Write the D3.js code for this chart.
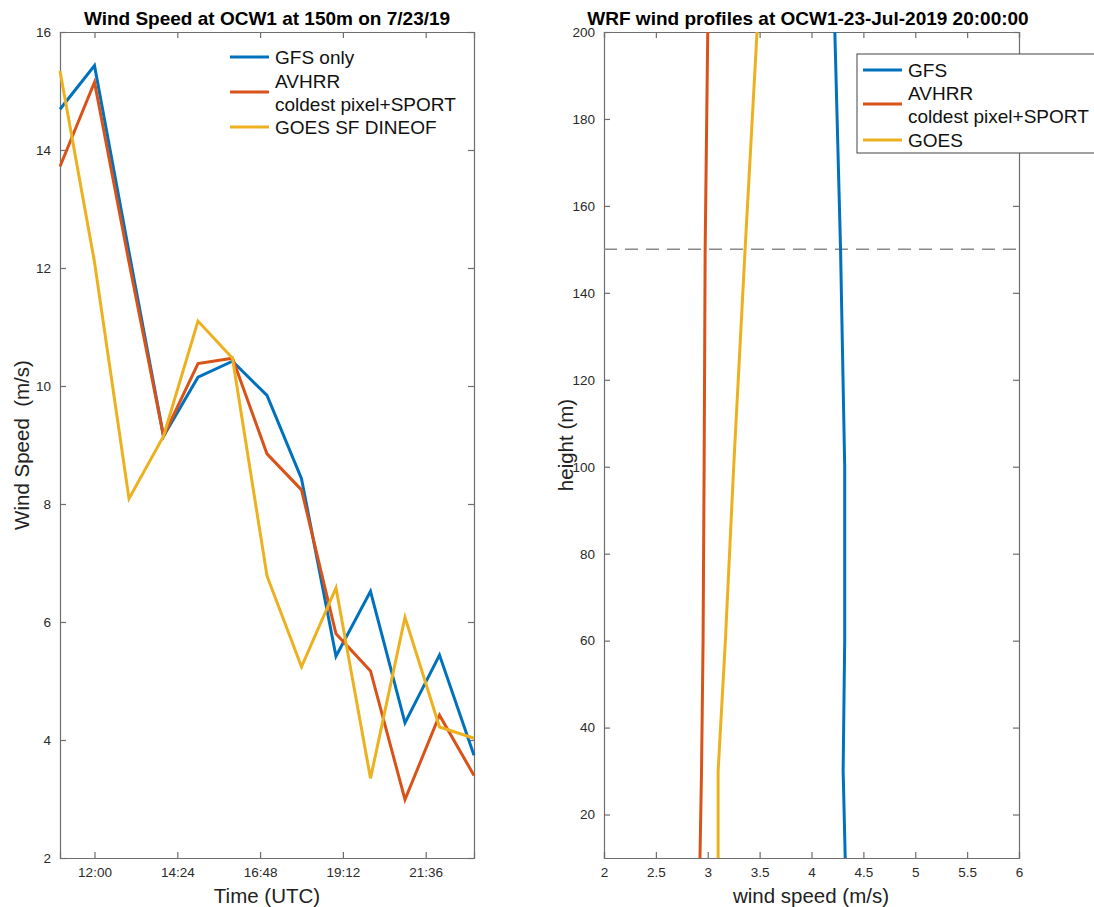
<!DOCTYPE html>
<html>
<head>
<meta charset="utf-8">
<script src="https://cdn.jsdelivr.net/npm/d3@7"></script>
<style>
  body { margin: 0; background: #fff; }
  svg text { font-family: "Liberation Sans", Arial, Helvetica, sans-serif; }
</style>
</head>
<body>
<svg id="chart" width="1094" height="907"></svg>
<script>
// left panel: hourly wind speed at 150 m
const times = ["11:00", "12:00", "13:00", "14:00", "15:00", "16:00", "17:00",
               "18:00", "19:00", "20:00", "21:00", "22:00", "23:00"];
const gfsSeries = [14.69, 15.43, 12.27, 9.15, 10.15, 10.42, 9.84, 8.43, 5.42, 6.52, 4.29, 5.44, 3.74];
const avhrrSeries = [13.72, 15.15, 12.1, 9.15, 10.38, 10.47, 8.85, 8.24, 5.80, 5.17, 2.99, 4.42, 3.40];
const goesSeries = [15.34, 12.1, 8.09, 9.15, 11.10, 10.47, 6.78, 5.24, 6.58, 3.35, 6.08, 4.22, 4.03];
const timeTicks = ["12:00", "14:24", "16:48", "19:12", "21:36"];
const speedTicks = [2, 4, 6, 8, 10, 12, 14, 16];

// right panel: vertical profile at 20:00
const heights = [10, 30, 60, 100, 150, 200];
const gfsProfile = [4.325, 4.305, 4.32, 4.32, 4.28, 4.225];
const avhrrProfile = [2.925, 2.94, 2.955, 2.965, 2.975, 3.0];
const goesProfile = [3.10, 3.10, 3.17, 3.25, 3.36, 3.475];
const profileSpeedTicks = [2, 2.5, 3, 3.5, 4, 4.5, 5, 5.5, 6];
const heightTicks = [20, 40, 60, 80, 100, 120, 140, 160, 180, 200];
const hubHeight = 150;

const colors = ["#0072BD", "#D95319", "#EDB120"];
const axisColor = "#6e6e6e";
const labelColor = "#2a2a2a";

const svg = d3.select("#chart");
const plotTop = 32, plotBottom = 858;

const parseTime = d3.utcParse("%H:%M");

function boxAxes(g, x, y, xTicks, yTicks, xFormat, yFormat) {
    const [x0, x1] = x.range();
    const [y0, y1] = y.range();
    g.append("g").attr("transform", `translate(0,${y0})`)
        .call(d3.axisBottom(x).tickValues(xTicks).tickSize(-6).tickPadding(9).tickFormat(xFormat));
    g.append("g").attr("transform", `translate(0,${y1})`)
        .call(d3.axisTop(x).tickValues(xTicks).tickSize(-6).tickFormat(""));
    g.append("g").attr("transform", `translate(${x0},0)`)
        .call(d3.axisLeft(y).tickValues(yTicks).tickSize(-6).tickPadding(9).tickFormat(yFormat));
    g.append("g").attr("transform", `translate(${x1},0)`)
        .call(d3.axisRight(y).tickValues(yTicks).tickSize(-6).tickFormat(""));
    g.selectAll(".domain").attr("stroke", axisColor).attr("stroke-width", 1.2);
    g.selectAll(".tick line").attr("stroke", axisColor).attr("stroke-width", 1.2);
    g.selectAll(".tick text").attr("fill", labelColor).style("font-size", "13.5px");
}

function legend(g, x, y, entries) {
    entries.forEach(e => {
        g.append("line")
            .attr("x1", x).attr("x2", x + 39)
            .attr("y1", y + e.lineY).attr("y2", y + e.lineY)
            .attr("stroke", e.color).attr("stroke-width", 2.8);
        e.lines.forEach((t, i) => {
            g.append("text")
                .attr("x", x + 45).attr("y", y + e.textY + i * 23)
                .attr("dy", "0.35em")
                .style("font-size", "19px").attr("fill", "#111")
                .text(t);
        });
    });
}

// ---------- left panel ----------
const left = svg.append("g");
const xTime = d3.scaleUtc()
    .domain([parseTime("11:00"), parseTime("23:00")])
    .range([60, 474]);
const ySpeed = d3.scaleLinear().domain([2, 16]).range([plotBottom, plotTop]);

boxAxes(left, xTime, ySpeed, timeTicks.map(parseTime), speedTicks,
        d3.utcFormat("%H:%M"), d3.format("d"));

const lineTime = d3.line()
    .x((d, i) => xTime(parseTime(times[i])))
    .y(d => ySpeed(d));

[gfsSeries, avhrrSeries, goesSeries].forEach((s, i) => {
    left.append("path")
        .datum(s)
        .attr("d", lineTime)
        .attr("fill", "none")
        .attr("stroke", colors[i])
        .attr("stroke-width", 3)
        .attr("stroke-linejoin", "miter");
});

left.append("text")
    .attr("x", 267).attr("y", 25)
    .attr("text-anchor", "middle")
    .style("font-size", "19px").style("font-weight", "bold")
    .text("Wind Speed at OCW1 at 150m on 7/23/19");

left.append("text")
    .attr("x", 267).attr("y", 903)
    .attr("text-anchor", "middle")
    .style("font-size", "20.5px").attr("fill", "#222")
    .text("Time (UTC)");

left.append("text")
    .attr("transform", "translate(29,445) rotate(-90)")
    .attr("text-anchor", "middle")
    .style("font-size", "20.5px").attr("fill", "#222")
    .style("white-space", "pre")
    .text("Wind Speed  (m/s)");

legend(left, 230, 0, [
    { color: colors[0], lineY: 57, textY: 57, lines: ["GFS only"] },
    { color: colors[1], lineY: 92, textY: 81, lines: ["AVHRR", "coldest pixel+SPORT"] },
    { color: colors[2], lineY: 127, textY: 127, lines: ["GOES SF DINEOF"] }
]);

// ---------- right panel ----------
const right = svg.append("g");
const xWind = d3.scaleLinear().domain([2, 6]).range([604, 1019]);
const yHeight = d3.scaleLinear().domain([10, 200]).range([plotBottom, plotTop]);

boxAxes(right, xWind, yHeight, profileSpeedTicks, heightTicks,
        d3.format("~g"), d3.format("d"));

right.append("line")
    .attr("x1", xWind(2)).attr("x2", xWind(6))
    .attr("y1", yHeight(hubHeight)).attr("y2", yHeight(hubHeight))
    .attr("stroke", "#8a8a8a").attr("stroke-width", 1.5)
    .attr("stroke-dasharray", "13,8");

const lineProfile = d3.line()
    .x(d => xWind(d))
    .y((d, i) => yHeight(heights[i]));

[gfsProfile, avhrrProfile, goesProfile].forEach((s, i) => {
    right.append("path")
        .datum(s)
        .attr("d", lineProfile)
        .attr("fill", "none")
        .attr("stroke", colors[i])
        .attr("stroke-width", 3);
});

right.append("text")
    .attr("x", 808).attr("y", 25)
    .attr("text-anchor", "middle")
    .style("font-size", "19px").style("font-weight", "bold")
    .text("WRF wind profiles at OCW1-23-Jul-2019 20:00:00");

right.append("text")
    .attr("x", 811).attr("y", 903)
    .attr("text-anchor", "middle")
    .style("font-size", "20.5px").attr("fill", "#222")
    .text("wind speed (m/s)");

right.append("text")
    .attr("transform", "translate(573,445) rotate(-90)")
    .attr("text-anchor", "middle")
    .style("font-size", "20.5px").attr("fill", "#222")
    .text("height (m)");

right.append("rect")
    .attr("x", 857).attr("y", 54)
    .attr("width", 260).attr("height", 99)
    .attr("fill", "#fff")
    .attr("stroke", "#444").attr("stroke-width", 1);

legend(right, 863, 0, [
    { color: colors[0], lineY: 70, textY: 70, lines: ["GFS"] },
    { color: colors[1], lineY: 104, textY: 93, lines: ["AVHRR", "coldest pixel+SPORT"] },
    { color: colors[2], lineY: 140, textY: 140, lines: ["GOES"] }
]);
</script>
</body>
</html>
